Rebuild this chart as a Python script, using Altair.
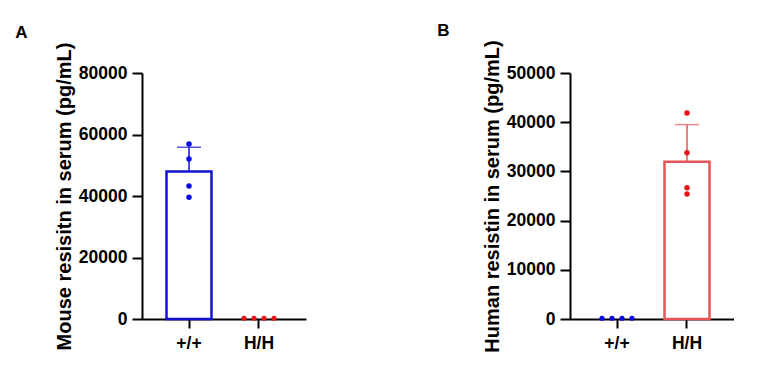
import altair as alt
import pandas as pd

genotypes = ["+/+", "H/H"]

# Panel A: mouse resistin (pg/mL)
mouse_wt = [56900, 52000, 43250, 39600]
mouse_hh = [250, 250, 250, 250]

# Panel B: human resistin (pg/mL)
human_wt = [150, 150, 150, 150]
human_hh = [41860, 33800, 26700, 25400]

reps = [1, 2, 3, 4]

FONT = "Liberation Sans"
BLUE_BAR = "#1212D2"
BLUE_PT = "#0A0AE6"
RED_BAR = "#E65458"
RED_PT = "#E61414"
W, H = 164, 246


def panel(letter, ytitle, ymax, ystep, main_vals, main_geno, zero_vals, zero_geno,
          bar_color, pt_color, zero_color, title_dx):
    main = pd.DataFrame({"geno": main_geno, "value": main_vals, "rep": reps})
    zero = pd.DataFrame({"geno": zero_geno, "value": zero_vals, "rep": reps})

    xenc = alt.X("geno:N", scale=alt.Scale(domain=genotypes, paddingInner=0.357, paddingOuter=0.35),
                 axis=alt.Axis(title=None, labelAngle=0, tickSize=9, labelPadding=6))
    yscale = alt.Scale(domain=[0, ymax], nice=False)
    yaxis = alt.Axis(values=list(range(0, ymax + 1, ystep)), format="d", tickSize=10,
                     labelPadding=5, title=ytitle, titlePadding=4, grid=False)

    base = alt.Chart(main)
    bar = base.mark_bar(fill="white", stroke=bar_color, strokeWidth=2.5).encode(
        x=xenc, y=alt.Y("mean(value):Q", scale=yscale, axis=yaxis))
    stats = base.transform_aggregate(m="mean(value)", s="stdev(value)", groupby=["geno"]) \
        .transform_calculate(hi="datum.m + datum.s")
    err = stats.mark_rule(color=bar_color, strokeWidth=1.5).encode(
        x=xenc, y=alt.Y("m:Q", scale=yscale), y2="hi:Q")
    cap = stats.mark_tick(color=bar_color, thickness=1.5, size=24, orient="horizontal").encode(
        x=xenc, y=alt.Y("hi:Q", scale=yscale))
    pts = base.mark_circle(color=pt_color, size=30, opacity=1).encode(
        x=xenc, y=alt.Y("value:Q", scale=yscale))
    zpts = alt.Chart(zero).mark_circle(
        color=zero_color, size=26, opacity=1,
        xOffset=alt.ExprRef("(datum.rep - 2.5) * 10"),
    ).encode(x=xenc, y=alt.Y("value:Q", scale=yscale))

    return alt.layer(bar, err, cap, pts, zpts).properties(
        width=W, height=H,
        title=alt.TitleParams(letter, anchor="start", frame="bounds", dx=title_dx, offset=0,
                              fontSize=17, font=FONT, fontWeight="bold", color="black"))


a = panel("A", "Mouse resisitn in serum (pg/mL)", 80000, 20000,
          mouse_wt, "+/+", mouse_hh, "H/H", BLUE_BAR, BLUE_PT, RED_PT, -39)
b = panel("B", "Human resistin in serum (pg/mL)", 50000, 10000,
          human_hh, "H/H", human_wt, "+/+", RED_BAR, RED_PT, BLUE_PT, -45)

chart = alt.hconcat(a, b, spacing=131).properties(
    padding={"left": 7, "top": 13, "right": 0, "bottom": 0}
).configure_view(stroke=None).configure_axis(
    labelFont=FONT, titleFont=FONT, labelFontWeight="bold", titleFontWeight="bold",
    labelFontSize=17.5, titleFontSize=20, labelColor="black", titleColor="black",
    domainColor="black", domainWidth=2, tickColor="black", tickWidth=2,
)

chart.save("out.html", embed_options={"renderer": "svg", "actions": False})
